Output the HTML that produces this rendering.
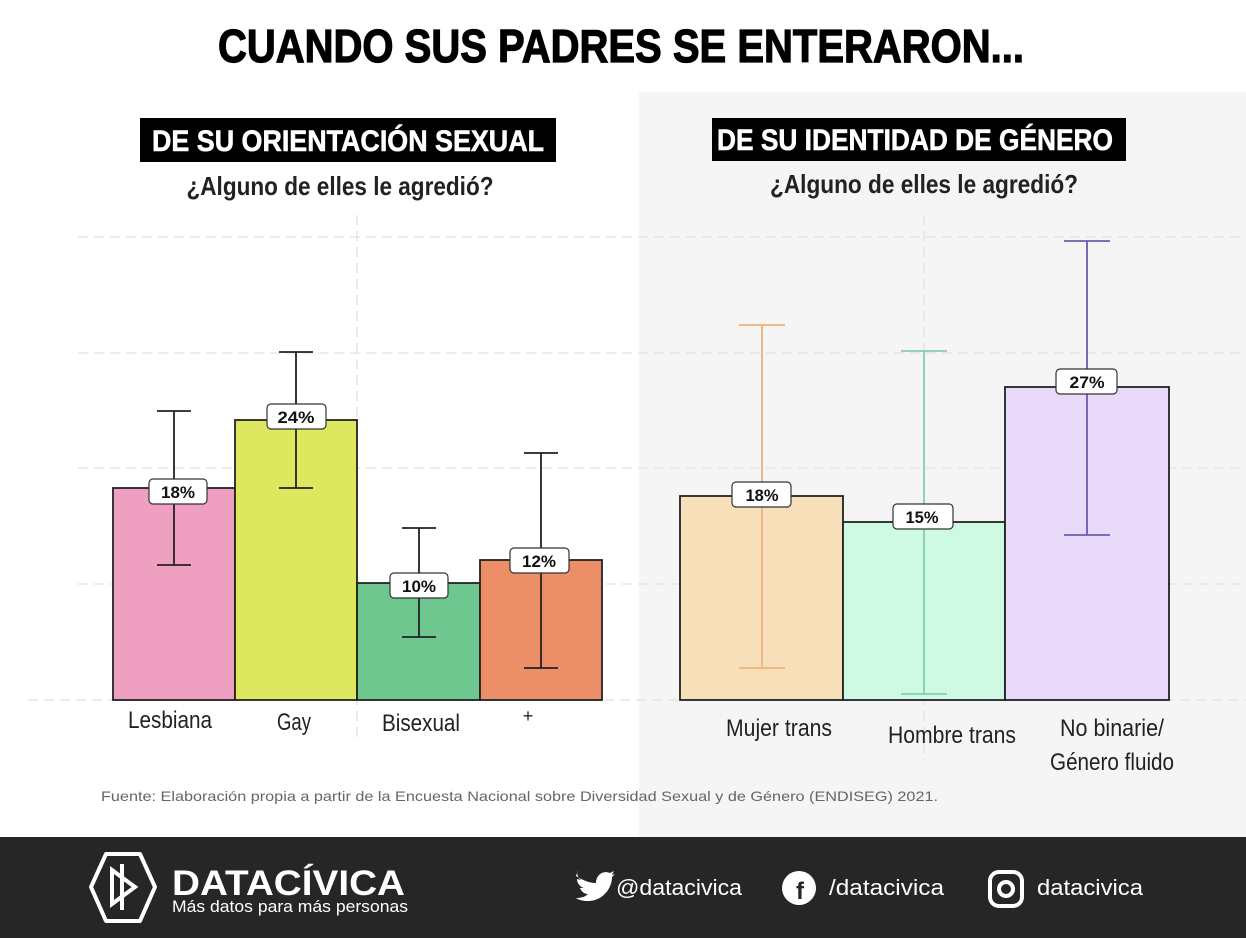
<!DOCTYPE html>
<html><head><meta charset="utf-8"><style>
html,body{margin:0;padding:0;background:#fff;}
svg{display:block;font-family:"Liberation Sans",sans-serif;}
</style></head><body>
<svg width="1246" height="938" viewBox="0 0 1246 938" xmlns="http://www.w3.org/2000/svg">
<rect width="1246" height="938" fill="#fff"/>
<rect x="639" y="92" width="607" height="745" fill="#f5f5f5"/>
<text x="621" y="62" text-anchor="middle" font-size="46" font-weight="bold" textLength="806" lengthAdjust="spacingAndGlyphs" fill="#000" stroke="#000" stroke-width="1.2">CUANDO SUS PADRES SE ENTERARON...</text>

<rect x="140" y="118" width="416" height="44" fill="#000"/>
<text x="348" y="151" text-anchor="middle" font-size="30" font-weight="bold" fill="#fff" stroke="#fff" stroke-width="0.6" textLength="392" lengthAdjust="spacingAndGlyphs">DE SU ORIENTACIÓN SEXUAL</text>
<text x="340" y="195" text-anchor="middle" font-size="26" font-weight="bold" fill="#222" textLength="307" lengthAdjust="spacingAndGlyphs">¿Alguno de elles le agredió?</text>
<rect x="712" y="118" width="414" height="43" fill="#000"/>
<text x="915" y="150" text-anchor="middle" font-size="30" font-weight="bold" fill="#fff" stroke="#fff" stroke-width="0.6" textLength="396" lengthAdjust="spacingAndGlyphs">DE SU IDENTIDAD DE GÉNERO</text>
<text x="924" y="193" text-anchor="middle" font-size="26" font-weight="bold" fill="#222" textLength="308" lengthAdjust="spacingAndGlyphs">¿Alguno de elles le agredió?</text>

<g stroke="#e2e2e2" stroke-width="1.3" stroke-dasharray="10,6" fill="none">
<line x1="78" y1="237" x2="1246" y2="237"/>
<line x1="78" y1="353" x2="1246" y2="353"/>
<line x1="78" y1="468" x2="1246" y2="468"/>
<line x1="78" y1="584" x2="1246" y2="584"/>
<line x1="28" y1="700" x2="1246" y2="700"/>
<line x1="357" y1="215" x2="357" y2="740"/>
<line x1="924" y1="215" x2="924" y2="760"/>
</g>

<g stroke="#222" stroke-width="1.8">
<rect x="113" y="488" width="122" height="212" fill="#efa0c0"/>
<rect x="235" y="420" width="122" height="280" fill="#dde85e"/>
<rect x="357" y="583" width="123" height="117" fill="#6dc78f"/>
<rect x="480" y="560" width="122" height="140" fill="#ec8e68"/>
<rect x="680" y="496" width="163" height="204" fill="#f7dfba"/>
<rect x="843" y="522" width="162" height="178" fill="#cefae4"/>
<rect x="1005" y="387" width="164" height="313" fill="#eadafa"/>
</g>

<g stroke="#222" stroke-width="1.8" fill="none">
<path d="M174 411V565M157 411H191M157 565H191"/>
<path d="M296 352V488M279 352H313M279 488H313"/>
<path d="M419 528V637M402 528H436M402 637H436"/>
<path d="M541 453V668M524 453H558M524 668H558"/>
</g>
<path d="M762 325V668M739 325H785M739 668H785" stroke="#f1b27a" stroke-width="1.8" fill="none"/>
<path d="M924 351V694M901 351H947M901 694H947" stroke="#8ccbb0" stroke-width="1.8" fill="none"/>
<path d="M1087 241V535M1064 241H1110M1064 535H1110" stroke="#6a5cb0" stroke-width="1.8" fill="none"/>

<g font-weight="bold" font-size="17" text-anchor="middle" fill="#111">
<rect x="149" y="479" width="58" height="25" rx="4" fill="#fff" stroke="#333" stroke-width="1.2"/>
<text x="178" y="498" textLength="34" lengthAdjust="spacingAndGlyphs">18%</text>
<rect x="267" y="404" width="59" height="25" rx="4" fill="#fff" stroke="#333" stroke-width="1.2"/>
<text x="296" y="423" textLength="37" lengthAdjust="spacingAndGlyphs">24%</text>
<rect x="390" y="573" width="58" height="25" rx="4" fill="#fff" stroke="#333" stroke-width="1.2"/>
<text x="419" y="592" textLength="34" lengthAdjust="spacingAndGlyphs">10%</text>
<rect x="510" y="548" width="59" height="25" rx="4" fill="#fff" stroke="#333" stroke-width="1.2"/>
<text x="539" y="567" textLength="34" lengthAdjust="spacingAndGlyphs">12%</text>
<rect x="732" y="482" width="59" height="25" rx="4" fill="#fff" stroke="#333" stroke-width="1.2"/>
<text x="762" y="501" textLength="33" lengthAdjust="spacingAndGlyphs">18%</text>
<rect x="893" y="504" width="60" height="25" rx="4" fill="#fff" stroke="#333" stroke-width="1.2"/>
<text x="922" y="523" textLength="33" lengthAdjust="spacingAndGlyphs">15%</text>
<rect x="1056" y="369" width="61" height="25" rx="4" fill="#fff" stroke="#333" stroke-width="1.2"/>
<text x="1087" y="388" textLength="35" lengthAdjust="spacingAndGlyphs">27%</text>
</g>

<g font-size="24" text-anchor="middle" fill="#222">
<text x="170" y="728" textLength="84" lengthAdjust="spacingAndGlyphs">Lesbiana</text>
<text x="294" y="730" textLength="34" lengthAdjust="spacingAndGlyphs">Gay</text>
<text x="421" y="731" textLength="78" lengthAdjust="spacingAndGlyphs">Bisexual</text>
<text x="528" y="722" font-size="18">+</text>
<text x="779" y="736" textLength="106" lengthAdjust="spacingAndGlyphs">Mujer trans</text>
<text x="952" y="743" textLength="128" lengthAdjust="spacingAndGlyphs">Hombre trans</text>
<text x="1112" y="736" textLength="104" lengthAdjust="spacingAndGlyphs">No binarie/</text>
<text x="1112" y="770" textLength="124" lengthAdjust="spacingAndGlyphs">Género fluido</text>
</g>
<text x="101" y="801" font-size="14" fill="#666" textLength="837" lengthAdjust="spacingAndGlyphs">Fuente: Elaboración propia a partir de la Encuesta Nacional sobre Diversidad Sexual y de Género (ENDISEG) 2021.</text>

<rect x="0" y="837" width="1246" height="101" fill="#262626"/>
<g fill="none" stroke="#fff" stroke-width="4">
<path d="M106 854L140 854L155 887L140 921L106 921L91 887Z" stroke-linejoin="round"/>
<path d="M112 870L135 887L112 904Z"/>
<path d="M122 864L122 910"/>
</g>
<text x="172" y="895" font-size="35" font-weight="bold" fill="#fff" textLength="233" lengthAdjust="spacingAndGlyphs">DATACÍVICA</text>
<text x="172" y="912" font-size="17" fill="#fff" textLength="236" lengthAdjust="spacingAndGlyphs">Más datos para más personas</text>
<path d="M576 876c8 5 14 7 20 7c0-8 7-13 14-10l4-2l-2 4l3-1l-3 3c0 12-10 24-24 24c-5 0-9-1-12-3c5 0 9-1 12-4c-4 0-7-3-8-6h4c-4-1-7-5-7-9l4 1c-3-2-5-7-3-10z" fill="#fff"/>
<text x="616" y="895" font-size="22" fill="#fff" textLength="126" lengthAdjust="spacingAndGlyphs">@datacivica</text>
<circle cx="799" cy="888" r="17" fill="#fff"/>
<text x="800" y="899" font-size="24" font-weight="bold" fill="#262626" text-anchor="middle">f</text>
<text x="829" y="895" font-size="22" fill="#fff" textLength="115" lengthAdjust="spacingAndGlyphs">/datacivica</text>
<rect x="990" y="872" width="32" height="34" rx="9" fill="none" stroke="#fff" stroke-width="4"/>
<circle cx="1006" cy="889" r="7" fill="none" stroke="#fff" stroke-width="4"/>
<text x="1037" y="895" font-size="22" fill="#fff" textLength="106" lengthAdjust="spacingAndGlyphs">datacivica</text>
</svg>
</body></html>
